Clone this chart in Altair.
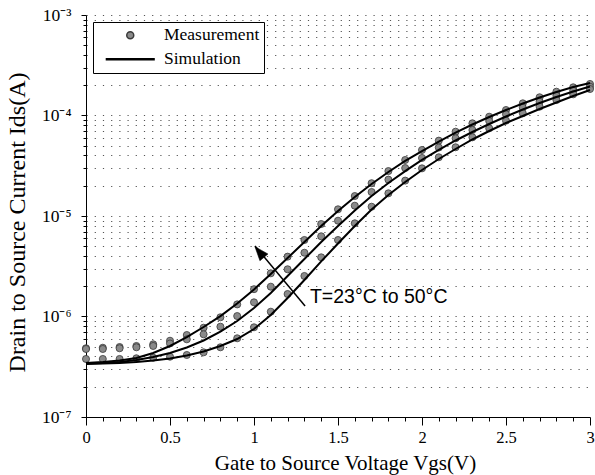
import altair as alt
import pandas as pd

# ---------------- data ----------------
vgs = [0.0, 0.1, 0.2, 0.3, 0.4, 0.5, 0.6, 0.7, 0.8, 0.9, 1.0,
       1.1, 1.2, 1.3, 1.4, 1.5, 1.6, 1.7, 1.8, 1.9, 2.0,
       2.1, 2.2, 2.3, 2.4, 2.5, 2.6, 2.7, 2.8, 2.9, 3.0]

meas_50 = [4.83e-7, 4.89e-7, 4.97e-7, 5.09e-7, 5.29e-7, 5.74e-7, 6.54e-7, 7.73e-7, 9.82e-7, 1.32e-6,
           1.87e-6, 2.69e-6, 3.94e-6, 5.77e-6, 8.32e-6, 1.166e-5, 1.58e-5, 2.12e-5, 2.80e-5, 3.61e-5,
           4.54e-5, 5.62e-5, 6.90e-5, 8.36e-5, 9.73e-5, 1.134e-4, 1.322e-4, 1.518e-4, 1.725e-4, 1.908e-4,
           2.06e-4]
meas_mid = [4.75e-7, 4.75e-7, 4.83e-7, 4.94e-7, 5.09e-7, 5.39e-7, 5.93e-7, 6.65e-7, 7.92e-7, 1.01e-6,
            1.384e-6, 1.98e-6, 2.95e-6, 4.31e-6, 6.28e-6, 8.98e-6, 1.266e-5, 1.733e-5, 2.30e-5, 3.00e-5,
            3.78e-5, 4.80e-5, 5.93e-5, 7.17e-5, 8.82e-5, 1.028e-4, 1.196e-4, 1.372e-4, 1.574e-4, 1.765e-4,
            1.934e-4]
meas_23 = [3.78e-7, 3.78e-7, 3.78e-7, 3.84e-7, 3.89e-7, 3.98e-7, 4.14e-7, 4.40e-7, 4.94e-7, 6.07e-7,
           7.81e-7, 1.116e-6, 1.674e-6, 2.53e-6, 3.88e-6, 5.77e-6, 8.46e-6, 1.237e-5, 1.682e-5, 2.25e-5,
           2.98e-5, 3.84e-5, 4.83e-5, 6.07e-5, 7.46e-5, 8.88e-5, 1.052e-4, 1.224e-4, 1.426e-4, 1.625e-4,
           1.835e-4]

sim_50 = [3.45e-7, 3.53e-7, 3.65e-7, 3.86e-7, 4.33e-7, 5.09e-7, 6.25e-7, 7.86e-7, 1.01e-6, 1.347e-6,
          1.857e-6, 2.65e-6, 3.82e-6, 5.51e-6, 7.95e-6, 1.121e-5, 1.546e-5, 2.08e-5, 2.74e-5, 3.53e-5,
          4.43e-5, 5.51e-5, 6.77e-5, 8.14e-5, 9.66e-5, 1.134e-4, 1.316e-4, 1.511e-4, 1.713e-4, 1.921e-4,
          2.106e-4]
sim_mid = [3.41e-7, 3.45e-7, 3.53e-7, 3.69e-7, 3.95e-7, 4.33e-7, 4.91e-7, 5.77e-7, 7.09e-7, 9.02e-7,
           1.215e-6, 1.713e-6, 2.53e-6, 3.73e-6, 5.51e-6, 7.95e-6, 1.134e-5, 1.58e-5, 2.13e-5, 2.80e-5,
           3.61e-5, 4.54e-5, 5.64e-5, 6.85e-5, 8.23e-5, 9.77e-5, 1.147e-4, 1.331e-4, 1.528e-4, 1.733e-4,
           1.943e-4]
sim_23 = [3.37e-7, 3.41e-7, 3.45e-7, 3.53e-7, 3.65e-7, 3.82e-7, 4.09e-7, 4.48e-7, 5.09e-7, 5.97e-7,
          7.51e-7, 1.035e-6, 1.528e-6, 2.31e-6, 3.53e-6, 5.33e-6, 7.95e-6, 1.161e-5, 1.618e-5, 2.18e-5,
          2.87e-5, 3.69e-5, 4.64e-5, 5.77e-5, 7.01e-5, 8.42e-5, 9.89e-5, 1.161e-4, 1.347e-4, 1.563e-4,
          1.793e-4]

temps = ["T=50°C", "T=mid", "T=23°C"]
kinds = ["Measurement", "Simulation"]

x_ticks = [0.0, 0.1, 0.2, 0.3, 0.4, 0.5, 0.6, 0.7, 0.8, 0.9, 1.0,
           1.1, 1.2, 1.3, 1.4, 1.5, 1.6, 1.7, 1.8, 1.9, 2.0,
           2.1, 2.2, 2.3, 2.4, 2.5, 2.6, 2.7, 2.8, 2.9, 3.0]
y_decades = [1e-7, 1e-6, 1e-5, 1e-4, 1e-3]
y_decade_labels = ["10⁻⁷", "10⁻⁶", "10⁻⁵", "10⁻⁴", "10⁻³"]
y_mantissas = [1, 2, 3, 4, 5, 6, 7, 8, 9]
y_exponents = [-7, -6, -5, -4]

annot_text = ["T=23°C to 50°C"]
annot_text_pos = [(1.333, 1.56e-6)]
arrow_from = [(1.304, 1.27e-6)]
arrow_to = [(1.006, 5.03e-6)]
arrow_head = [(1.039, 4.25e-6)]

# ---------------- tables ----------------
rows = []
for t, s in zip(temps, [meas_50, meas_mid, meas_23]):
    for v, i in zip(vgs, s):
        rows.append({"vgs": v, "ids": i, "temp": t, "kind": "Measurement"})
meas_df = pd.DataFrame(rows)

rows = []
for t, s in zip(temps, [sim_50, sim_mid, sim_23]):
    for v, i in zip(vgs, s):
        rows.append({"vgs": v, "ids": i, "temp": t, "kind": "Simulation"})
sim_df = pd.DataFrame(rows)

y_ticks = [float(f"{m}e{e}") for e in y_exponents for m in y_mantissas] + [1e-3]

label_expr = " : ".join(
    f"datum.value == {d:.0e} ? '{l}'" for d, l in zip(y_decades, y_decade_labels)
) + " : ''"
decade_test = " || ".join(f"datum.value == {d:.0e}" for d in y_decades)
half_test = "abs(datum.value * 2 - round(datum.value * 2)) < 1e-6"

SERIF = "Liberation Serif"

X = alt.X(
    "vgs:Q",
    scale=alt.Scale(domain=[0, 3], nice=False, zero=False),
    axis=alt.Axis(
        title="Gate to Source Voltage Vgs(V)",
        values=x_ticks,
        labelExpr=f"{half_test} ? toString(datum.value) : ''",
        tickSize={"condition": {"test": half_test, "value": 8}, "value": 4},
        grid=False,
        labelPadding=4,
        labelFont=SERIF, labelFontSize=16.5, labelColor="black",
        titleFont=SERIF, titleFontSize=21, titleFontWeight="normal", titleColor="black",
        titleX=259, titleY=52, titleBaseline="alphabetic", titleAlign="center",
        domainColor="black", tickColor="black", labelFlush=False, labelOverlap=False,
    ),
)
Y = alt.Y(
    "ids:Q",
    scale=alt.Scale(type="log", domain=[1e-7, 1e-3], nice=False),
    axis=alt.Axis(
        title="Drain to Source Current Ids(A)",
        values=y_ticks,
        labelExpr=label_expr,
        tickSize={"condition": {"test": decade_test, "value": 5}, "value": 3},
        grid=True, gridDash=[1.2, 7], gridColor="#555555", gridWidth=1,
        labelPadding=10,
        labelFont=SERIF, labelFontSize=17.5, labelColor="black",
        titleFont=SERIF, titleFontSize=24, titleFontWeight="normal", titleColor="black",
        titleX=-69, titleY=207, titleAngle=-90, titleBaseline="middle", titleAlign="center",
        domainColor="black", tickColor="black", labelOverlap=False, labelFlush=False,
    ),
)

LINE_SYMBOL = "M-6.8,-0.15L6.8,-0.15L6.8,0.15L-6.8,0.15Z"
legend = alt.Legend(title=None, orient="none", legendX=7, legendY=7)

points = alt.Chart(meas_df).mark_point(filled=True, size=50, strokeWidth=0.8, opacity=1).encode(
    x=X, y=Y,
    fill=alt.Fill("kind:N", scale=alt.Scale(domain=kinds, range=["#8a8a8a", "#000000"]), legend=legend),
    stroke=alt.Stroke("kind:N", scale=alt.Scale(domain=kinds, range=["#3a3a3a", "#000000"]), legend=legend),
    shape=alt.Shape("kind:N", scale=alt.Scale(domain=kinds, range=["circle", LINE_SYMBOL]), legend=legend),
    detail="temp:N",
)

lines = alt.Chart(sim_df).mark_line(color="black", strokeWidth=2).encode(
    x=X, y=Y, detail="temp:N", order="vgs:Q"
)

arrow_df = pd.DataFrame({
    "vgs": [p[0] for p in arrow_from], "ids": [p[1] for p in arrow_from],
    "vgs2": [p[0] for p in arrow_to], "ids2": [p[1] for p in arrow_to],
})
arrow = alt.Chart(arrow_df).mark_rule(color="black", strokeWidth=1.5).encode(
    x=X, y=Y, x2="vgs2:Q", y2="ids2:Q"
)
head_df = pd.DataFrame({"vgs": [p[0] for p in arrow_head], "ids": [p[1] for p in arrow_head]})
head = alt.Chart(head_df).mark_point(
    shape="M0,-1L0.6,0.6L-0.6,0.6Z", size=306, angle=320, filled=True,
    fill="black", stroke="black", strokeWidth=0.5, opacity=1
).encode(x=X, y=Y)

text_df = pd.DataFrame({
    "vgs": [p[0] for p in annot_text_pos], "ids": [p[1] for p in annot_text_pos], "label": annot_text
})
text = alt.Chart(text_df).mark_text(
    align="left", baseline="middle", font="Liberation Sans", fontSize=19.5, color="black"
).encode(x=X, y=Y, text="label:N")

chart = alt.layer(points, lines, arrow, head, text).properties(
    width=504, height=402,
    autosize=alt.AutoSizeParams(type="none"),
    padding={"left": 86, "top": 15, "right": 5, "bottom": 58},
).configure_view(stroke=None).configure_legend(
    strokeColor="black", fillColor="white", padding=4.5, rowPadding=5,
    labelFont=SERIF, labelFontSize=17.5, labelColor="black",
    symbolSize=49, symbolOffset=24, labelOffset=25, cornerRadius=0, strokeWidth=1,
    labelLimit=300,
).configure_axis(domainWidth=1, tickWidth=1)

chart.save("out.html", embed_options={"renderer": "svg", "actions": False})
